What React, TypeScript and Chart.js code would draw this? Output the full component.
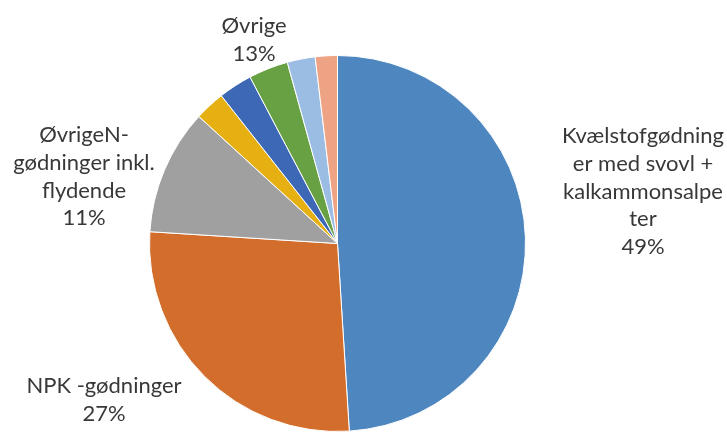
import React, { useEffect, useRef } from "react";
import { Chart, registerables } from "chart.js";

Chart.register(...registerables);

// Data (percent shares), clockwise from 12 o'clock
const categories = [
  "Kvælstofgødninger med svovl + kalkammonsalpeter",
  "NPK -gødninger",
  "ØvrigeN-gødninger inkl. flydende",
  "Øvrige 1",
  "Øvrige 2",
  "Øvrige 3",
  "Øvrige 4",
  "Øvrige 5",
];
const shares = [49.0, 27.0, 10.8, 2.6, 2.9, 3.4, 2.4, 1.9];
const sliceColors = [
  "#4E86C0",
  "#D36D2B",
  "#A0A0A0",
  "#E6B012",
  "#3D68B5",
  "#67A143",
  "#9BBCE3",
  "#EFA385",
];

// Data labels (text as shown)
const labelTexts: string[][] = [
  ["Kvælstofgødning", "er med svovl +", "kalkammonsalpe", "ter", "49%"],
  ["NPK -gødninger", "27%"],
  ["ØvrigeN-", "gødninger inkl.", "flydende", "11%"],
  ["Øvrige", "13%"],
];

// Label layout: center x, first baseline y (px)
const labelLayout = [
  { x: 643, y: 143 },
  { x: 104, y: 393 },
  { x: 84, y: 142 },
  { x: 254, y: 33 },
];
const LINE_HEIGHT = 27.8;
const FONT = "22px Lato";
const TEXT_COLOR = "#383838";

const labelPlugin = {
  id: "customLabels",
  afterDraw(chart: any) {
    const ctx = chart.ctx as CanvasRenderingContext2D;
    ctx.save();
    ctx.font = FONT;
    ctx.fillStyle = TEXT_COLOR;
    ctx.textAlign = "center";
    ctx.textBaseline = "alphabetic";
    labelTexts.forEach((lines, i) => {
      const pos = labelLayout[i];
      lines.forEach((line, j) => {
        ctx.fillText(line, pos.x, pos.y + j * LINE_HEIGHT);
      });
    });
    ctx.restore();
  },
};

export default function App() {
  const canvasRef = useRef<HTMLCanvasElement | null>(null);

  useEffect(() => {
    document.body.style.margin = "0";
    const canvas = canvasRef.current;
    if (!canvas) return;
    const chart = new Chart(canvas, {
      type: "pie",
      data: {
        labels: categories,
        datasets: [
          {
            data: shares,
            backgroundColor: sliceColors,
            borderColor: "#FFFFFF",
            borderWidth: 1,
          },
        ],
      },
      options: {
        responsive: false,
        animation: false,
        layout: {
          padding: { left: 148, right: 200, top: 55, bottom: -1 },
        },
        plugins: {
          legend: { display: false },
          tooltip: { enabled: false },
        },
      },
      plugins: [labelPlugin],
    });
    return () => chart.destroy();
  }, []);

  return (
    <div style={{ position: "fixed", left: 0, top: 0, width: 727, height: 432, background: "#FFFFFF" }}>
      <canvas ref={canvasRef} width={727} height={432} />
    </div>
  );
}
